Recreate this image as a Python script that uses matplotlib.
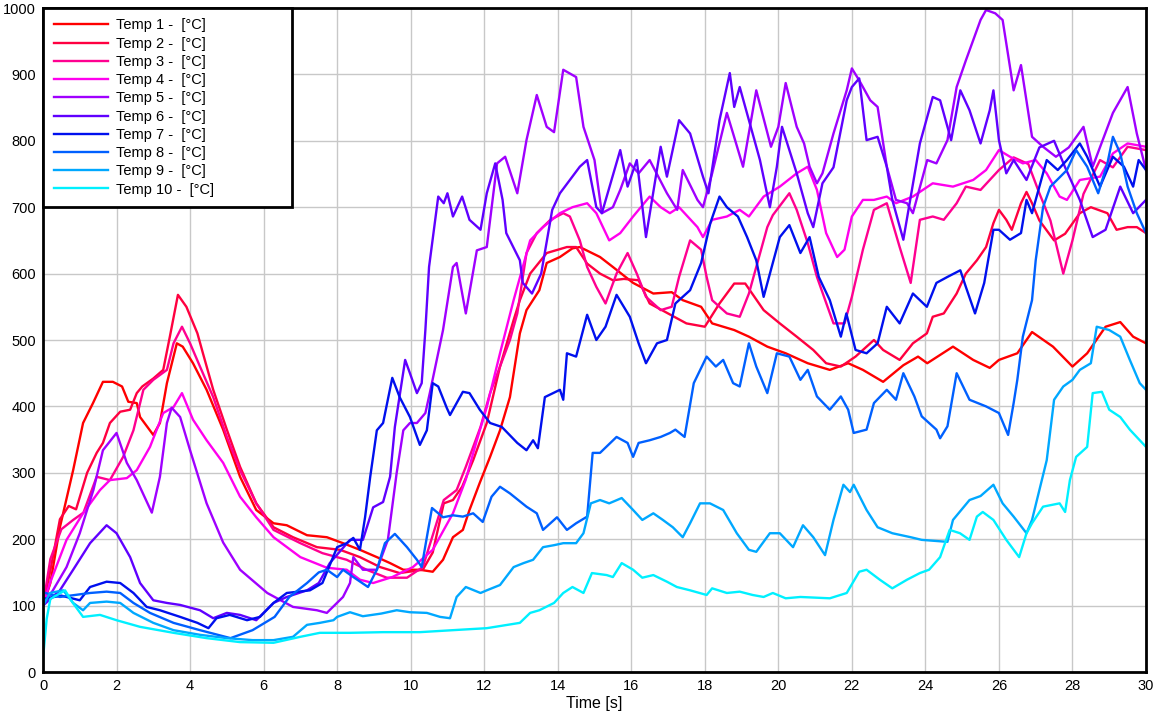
import matplotlib
matplotlib.use("Agg")
import matplotlib.pyplot as plt

# (time [s], temperature [°C])
temp1 = [(0, 100), (0.2, 134), (0.46, 218), (0.82, 304), (1.09, 375), (1.36, 405), (1.63, 437), (1.9, 437),
         (2.15, 430), (2.32, 407), (2.55, 405), (2.64, 384), (3.0, 357), (3.18, 375), (3.37, 435), (3.64, 495),
         (3.8, 490), (4.08, 465), (4.45, 425), (4.9, 365), (5.36, 294), (5.8, 244), (6.27, 224), (6.63, 221),
         (7.18, 206), (7.72, 203), (8.16, 194), (8.62, 184), (9.08, 173), (9.44, 164), (9.8, 154), (10.25, 154),
         (10.6, 151), (10.88, 169), (11.15, 203), (11.42, 214), (11.6, 244), (11.88, 285), (12.16, 324),
         (12.43, 364), (12.7, 414), (12.97, 510), (13.15, 545), (13.5, 575), (13.7, 616), (14.06, 625),
         (14.4, 638), (14.6, 640), (15.15, 625), (15.5, 610), (16.05, 586), (16.6, 570), (17.1, 572),
         (17.4, 560), (17.9, 550), (18.2, 525), (18.8, 515), (19.2, 505), (19.7, 490), (20.2, 480), (20.8, 465),
         (21.4, 455), (21.9, 465), (22.3, 455), (22.85, 437), (23.4, 462), (23.8, 475), (24.05, 465),
         (24.75, 490), (25.3, 470), (25.75, 458), (26.0, 470), (26.5, 480), (26.9, 512), (27.47, 490),
         (28.0, 460), (28.4, 480), (28.9, 520), (29.3, 527), (29.65, 505), (30, 495)]

temp2 = [(0, 100), (0.19, 150), (0.46, 230), (0.7, 250), (0.9, 245), (1.2, 300), (1.46, 330), (1.63, 345),
         (1.82, 375), (2.1, 392), (2.37, 395), (2.55, 420), (2.7, 430), (3.0, 442), (3.27, 455), (3.45, 505),
         (3.67, 568), (3.9, 550), (4.2, 510), (4.35, 480), (4.63, 425), (5.0, 365), (5.36, 309), (5.8, 254),
         (6.27, 218), (6.8, 203), (7.45, 188), (8.08, 184), (8.62, 173), (9.17, 158), (9.7, 149), (10.33, 154),
         (10.6, 180), (10.9, 254), (11.15, 259), (11.4, 279), (11.7, 319), (12.07, 375), (12.43, 460),
         (12.8, 530), (12.97, 560), (13.25, 600), (13.7, 631), (14.25, 640), (14.5, 640), (14.8, 615),
         (15.15, 600), (15.5, 590), (15.8, 592), (16.2, 590), (16.5, 555), (17.0, 540), (17.5, 525),
         (18.0, 520), (18.4, 555), (18.8, 585), (19.1, 585), (19.6, 545), (20.04, 525), (20.5, 505),
         (20.95, 485), (21.3, 465), (21.7, 460), (22.1, 475), (22.6, 500), (22.85, 485), (23.3, 470),
         (23.66, 495), (24.04, 510), (24.2, 535), (24.5, 540), (24.85, 570), (25.1, 600), (25.4, 620),
         (25.65, 640), (25.85, 676), (26.0, 696), (26.2, 681), (26.35, 666), (26.6, 706), (26.75, 723),
         (26.9, 706), (27.1, 680), (27.5, 650), (27.8, 660), (28.2, 691), (28.5, 700), (28.95, 691),
         (29.2, 666), (29.5, 670), (29.75, 670), (30, 661)]

temp3 = [(0, 100), (0.2, 170), (0.5, 215), (0.82, 229), (1.1, 240), (1.46, 294), (1.82, 289), (2.18, 324),
         (2.46, 364), (2.73, 425), (3.0, 440), (3.37, 455), (3.55, 495), (3.78, 520), (4.0, 495), (4.27, 460),
         (4.63, 414), (5.0, 354), (5.36, 304), (5.8, 254), (6.27, 214), (7.0, 194), (7.6, 179), (8.26, 169),
         (8.8, 154), (9.35, 142), (9.9, 142), (10.33, 158), (10.9, 259), (11.25, 274), (11.5, 309),
         (11.9, 369), (12.16, 420), (12.7, 500), (12.9, 540), (13.15, 631), (13.43, 661), (13.8, 681),
         (14.15, 691), (14.33, 686), (14.6, 650), (14.8, 610), (15.05, 580), (15.3, 555), (15.6, 600),
         (15.9, 631), (16.15, 600), (16.4, 565), (16.8, 545), (17.1, 550), (17.3, 595), (17.6, 650),
         (17.9, 636), (18.05, 595), (18.2, 560), (18.6, 540), (18.95, 535), (19.2, 570), (19.4, 610),
         (19.7, 670), (19.85, 688), (20.3, 721), (20.5, 696), (20.8, 646), (21.05, 595), (21.3, 556),
         (21.5, 525), (21.8, 525), (22.0, 565), (22.3, 636), (22.6, 696), (22.95, 706), (23.3, 640),
         (23.6, 586), (23.85, 681), (24.2, 686), (24.5, 681), (24.85, 706), (25.1, 731), (25.5, 726),
         (26.0, 756), (26.4, 775), (26.8, 765), (27.1, 721), (27.4, 680), (27.75, 600), (28.0, 650),
         (28.3, 720), (28.75, 771), (29.1, 760), (29.5, 791), (30, 786)]

temp4 = [(0, 100), (0.19, 134), (0.64, 199), (1.09, 239), (1.55, 274), (1.82, 289), (2.28, 292), (2.55, 304),
         (2.91, 339), (3.27, 390), (3.55, 399), (3.78, 420), (4.08, 380), (4.45, 349), (4.9, 315), (5.36, 264),
         (5.8, 233), (6.27, 203), (7.0, 173), (7.72, 157), (8.26, 154), (8.62, 139), (8.98, 134), (9.5, 143),
         (10.06, 158), (10.6, 184), (11.15, 239), (11.5, 290), (11.8, 349), (12.07, 399), (12.43, 480),
         (12.8, 560), (13.25, 650), (13.6, 670), (14.06, 691), (14.4, 700), (14.8, 706), (15.05, 691),
         (15.4, 650), (15.7, 661), (16.05, 686), (16.5, 716), (16.8, 700), (17.05, 691), (17.3, 700),
         (17.8, 670), (17.95, 655), (18.2, 681), (18.6, 686), (18.95, 696), (19.2, 686), (19.6, 716),
         (20.04, 731), (20.5, 751), (20.8, 761), (21.05, 726), (21.3, 661), (21.6, 625), (21.8, 636),
         (22.0, 686), (22.3, 711), (22.6, 711), (22.95, 716), (23.2, 706), (23.66, 716), (24.2, 736),
         (24.75, 731), (25.3, 741), (25.65, 756), (26.0, 786), (26.3, 776), (26.65, 766), (27.0, 771),
         (27.3, 751), (27.65, 716), (27.85, 711), (28.2, 741), (28.75, 746), (29.1, 781), (29.5, 796),
         (30, 791)]

temp5 = [(0, 100), (0.27, 123), (0.64, 158), (1.0, 209), (1.37, 274), (1.63, 334), (2.0, 360), (2.28, 315),
         (2.55, 289), (2.96, 240), (3.18, 294), (3.37, 375), (3.5, 398), (3.73, 384), (4.0, 334), (4.45, 254),
         (4.9, 195), (5.36, 154), (6.1, 119), (6.8, 98), (7.45, 93), (7.72, 89), (8.16, 113), (8.35, 134),
         (8.44, 173), (8.7, 154), (9.08, 154), (9.38, 199), (9.62, 300), (9.8, 364), (9.98, 375), (10.17, 375),
         (10.4, 390), (10.52, 420), (10.88, 515), (11.15, 610), (11.25, 616), (11.5, 540), (11.8, 635),
         (12.07, 640), (12.35, 766), (12.57, 776), (12.9, 721), (13.15, 801), (13.43, 869), (13.7, 821),
         (13.9, 813), (14.15, 907), (14.5, 896), (14.7, 821), (15.0, 771), (15.2, 691), (15.5, 700),
         (15.7, 726), (15.96, 766), (16.2, 751), (16.5, 771), (16.97, 721), (17.25, 696), (17.4, 756),
         (17.8, 711), (17.95, 700), (18.2, 751), (18.6, 842), (18.77, 811), (19.04, 761), (19.4, 876),
         (19.8, 791), (20.0, 821), (20.2, 887), (20.5, 821), (20.7, 796), (20.85, 761), (21.05, 736),
         (21.2, 751), (21.5, 811), (21.86, 876), (22.0, 909), (22.2, 891), (22.5, 861), (22.7, 851),
         (22.95, 761), (23.2, 711), (23.5, 706), (23.66, 691), (24.05, 771), (24.3, 766), (24.6, 801),
         (24.85, 881), (25.1, 921), (25.5, 982), (25.65, 997), (25.9, 992), (26.1, 982), (26.4, 876),
         (26.6, 914), (26.9, 806), (27.2, 791), (27.55, 776), (27.9, 790), (28.3, 821), (28.55, 761),
         (29.1, 842), (29.5, 881), (29.75, 811), (30, 756)]

temp6 = [(0, 100), (0.46, 123), (0.82, 154), (1.28, 194), (1.73, 221), (2.0, 209), (2.37, 173), (2.64, 134),
         (3.0, 108), (3.37, 104), (3.73, 101), (4.27, 93), (4.63, 81), (5.0, 89), (5.36, 86), (5.8, 78),
         (6.27, 104), (6.63, 113), (7.18, 123), (7.5, 134), (7.8, 164), (8.35, 199), (8.7, 199), (8.98, 248),
         (9.25, 256), (9.44, 294), (9.57, 369), (9.85, 470), (9.98, 450), (10.17, 420), (10.3, 435),
         (10.4, 515), (10.5, 610), (10.75, 716), (10.9, 706), (11.0, 721), (11.15, 686), (11.4, 716),
         (11.6, 681), (11.9, 666), (12.07, 721), (12.3, 766), (12.5, 711), (12.6, 661), (12.97, 620),
         (13.05, 586), (13.3, 570), (13.55, 600), (13.85, 696), (14.06, 721), (14.33, 741), (14.6, 761),
         (14.8, 771), (15.05, 700), (15.2, 691), (15.7, 786), (15.9, 731), (16.15, 771), (16.4, 655),
         (16.8, 791), (16.97, 746), (17.3, 831), (17.6, 811), (17.95, 746), (18.1, 721), (18.4, 831),
         (18.68, 902), (18.8, 851), (18.95, 881), (19.2, 831), (19.5, 771), (19.77, 700), (19.96, 761),
         (20.1, 821), (20.5, 751), (20.8, 691), (20.95, 670), (21.2, 736), (21.5, 760), (21.86, 861),
         (22.0, 881), (22.2, 894), (22.4, 801), (22.7, 806), (22.95, 761), (23.1, 711), (23.4, 651),
         (23.85, 796), (24.2, 866), (24.4, 861), (24.7, 801), (24.95, 876), (25.2, 846), (25.5, 796),
         (25.75, 846), (25.85, 876), (26.0, 801), (26.2, 751), (26.4, 771), (26.75, 741), (27.1, 790),
         (27.5, 800), (27.8, 760), (28.2, 711), (28.55, 655), (28.9, 666), (29.3, 731), (29.65, 691),
         (30, 711)]

temp7 = [(0, 110), (0.5, 115), (1.0, 108), (1.28, 128), (1.73, 136), (2.1, 134), (2.46, 119), (2.82, 98),
         (3.18, 93), (3.73, 83), (4.2, 74), (4.5, 66), (4.72, 81), (5.08, 86), (5.55, 78), (5.9, 83),
         (6.27, 104), (6.63, 119), (7.26, 123), (7.6, 134), (8.0, 188), (8.26, 194), (8.44, 202), (8.62, 184),
         (8.76, 233), (8.9, 294), (9.08, 364), (9.25, 375), (9.5, 443), (9.7, 414), (9.98, 384), (10.25, 342),
         (10.44, 364), (10.6, 435), (10.75, 430), (10.98, 398), (11.07, 387), (11.25, 405), (11.42, 422),
         (11.6, 420), (11.88, 395), (12.16, 375), (12.48, 369), (12.9, 345), (13.15, 334), (13.33, 349),
         (13.46, 337), (13.65, 414), (14.06, 425), (14.15, 410), (14.25, 480), (14.5, 475), (14.8, 538),
         (15.05, 500), (15.3, 520), (15.6, 568), (15.96, 535), (16.2, 495), (16.4, 465), (16.7, 495),
         (16.97, 500), (17.2, 555), (17.6, 575), (17.9, 616), (18.15, 676), (18.4, 716), (18.6, 700),
         (18.9, 686), (19.15, 655), (19.4, 620), (19.6, 565), (20.04, 655), (20.3, 673), (20.6, 631),
         (20.85, 655), (21.1, 595), (21.4, 560), (21.7, 505), (21.85, 540), (22.1, 485), (22.4, 480),
         (22.7, 495), (22.95, 550), (23.3, 525), (23.66, 570), (24.04, 550), (24.3, 586), (24.6, 595),
         (24.95, 605), (25.1, 580), (25.35, 540), (25.6, 586), (25.85, 666), (26.0, 666), (26.3, 651),
         (26.6, 661), (26.75, 711), (26.9, 691), (27.3, 771), (27.6, 756), (27.85, 771), (28.2, 796),
         (28.4, 776), (28.75, 731), (29.1, 776), (29.4, 761), (29.65, 731), (29.8, 771), (30, 756)]

temp8 = [(0, 120), (0.46, 113), (1.28, 119), (1.73, 121), (2.1, 119), (2.46, 104), (2.91, 89), (3.55, 74),
         (4.27, 63), (5.1, 51), (5.7, 63), (6.3, 83), (6.7, 113), (7.18, 134), (7.5, 150), (7.72, 154),
         (8.0, 143), (8.16, 154), (8.44, 143), (8.84, 128), (9.08, 154), (9.3, 194), (9.57, 208), (9.9, 188),
         (10.17, 169), (10.3, 158), (10.44, 203), (10.58, 247), (10.88, 233), (11.15, 236), (11.42, 234),
         (11.7, 239), (11.96, 226), (12.2, 264), (12.43, 279), (12.7, 269), (13.15, 249), (13.43, 239),
         (13.6, 214), (13.98, 233), (14.25, 214), (14.5, 224), (14.8, 234), (14.95, 330), (15.15, 330),
         (15.6, 354), (15.9, 345), (16.05, 324), (16.2, 345), (16.5, 349), (16.8, 354), (17.05, 360),
         (17.2, 365), (17.45, 354), (17.7, 435), (18.05, 475), (18.3, 460), (18.5, 470), (18.77, 435),
         (18.95, 430), (19.2, 495), (19.4, 460), (19.7, 420), (19.96, 480), (20.3, 475), (20.6, 440),
         (20.8, 455), (21.05, 415), (21.4, 395), (21.7, 415), (21.9, 395), (22.05, 360), (22.4, 365),
         (22.6, 405), (22.95, 425), (23.2, 410), (23.4, 450), (23.7, 415), (23.9, 385), (24.3, 365),
         (24.4, 352), (24.6, 370), (24.85, 450), (25.2, 410), (25.65, 400), (26.0, 390), (26.25, 357),
         (26.4, 405), (26.5, 440), (26.65, 505), (26.9, 560), (27.0, 620), (27.2, 700), (27.4, 731),
         (27.85, 756), (28.1, 786), (28.4, 761), (28.7, 721), (28.95, 766), (29.1, 806), (29.3, 781),
         (29.5, 731), (29.75, 691), (30, 661)]

temp9 = [(0, 100), (0.19, 119), (0.55, 123), (0.82, 104), (1.09, 93), (1.28, 104), (1.73, 106), (2.1, 104),
         (2.46, 89), (3.0, 74), (3.55, 63), (4.27, 56), (5.0, 51), (5.7, 48), (6.27, 48), (6.8, 53),
         (7.18, 71), (7.53, 74), (7.9, 78), (8.0, 83), (8.35, 90), (8.7, 84), (9.2, 88), (9.62, 93),
         (9.98, 90), (10.44, 89), (10.8, 83), (11.07, 81), (11.25, 113), (11.5, 128), (11.9, 119),
         (12.07, 123), (12.43, 131), (12.8, 158), (13.07, 164), (13.33, 169), (13.6, 188), (13.9, 191),
         (14.15, 194), (14.5, 194), (14.7, 209), (14.9, 254), (15.15, 259), (15.4, 254), (15.74, 262),
         (16.05, 244), (16.3, 229), (16.6, 239), (16.86, 229), (17.13, 218), (17.4, 203), (17.6, 224),
         (17.87, 254), (18.14, 254), (18.5, 244), (18.87, 209), (19.2, 184), (19.4, 181), (19.77, 209),
         (20.04, 209), (20.4, 188), (20.67, 221), (20.95, 203), (21.27, 176), (21.5, 229), (21.77, 282),
         (21.95, 271), (22.05, 282), (22.4, 244), (22.7, 218), (23.1, 209), (23.6, 203), (23.9, 199),
         (24.6, 196), (24.75, 229), (25.2, 259), (25.5, 265), (25.85, 282), (26.1, 254), (26.4, 234),
         (26.75, 209), (26.9, 229), (27.3, 319), (27.5, 410), (27.75, 430), (28.0, 440), (28.2, 455),
         (28.5, 465), (28.66, 520), (29.0, 515), (29.3, 505), (29.56, 470), (29.83, 435), (30, 425)]

temp10 = [(0, 20), (0.1, 80), (0.2, 110), (0.6, 123), (0.8, 105), (1.09, 83), (1.55, 86), (2.0, 78),
          (2.64, 68), (3.55, 59), (4.45, 51), (5.36, 45), (6.27, 44), (7.0, 53), (7.53, 59), (8.35, 59),
          (9.25, 60), (10.25, 60), (11.15, 63), (12.07, 66), (12.97, 74), (13.25, 89), (13.5, 93), (13.9, 104),
          (14.15, 119), (14.4, 128), (14.7, 119), (14.93, 149), (15.33, 146), (15.5, 143), (15.74, 164),
          (16.05, 154), (16.3, 142), (16.6, 146), (16.97, 136), (17.24, 128), (17.6, 123), (18.05, 116),
          (18.2, 126), (18.6, 119), (18.95, 121), (19.3, 116), (19.6, 113), (19.85, 119), (20.2, 111),
          (20.6, 113), (21.4, 111), (21.86, 119), (22.2, 151), (22.4, 154), (22.76, 139), (23.1, 126),
          (23.5, 139), (23.85, 149), (24.1, 154), (24.4, 173), (24.66, 214), (24.94, 209), (25.2, 199),
          (25.4, 234), (25.56, 241), (25.85, 229), (26.2, 199), (26.55, 173), (26.75, 209), (26.9, 224),
          (27.2, 249), (27.65, 254), (27.8, 241), (27.93, 289), (28.1, 324), (28.4, 339), (28.55, 420),
          (28.8, 422), (29.0, 395), (29.3, 384), (29.56, 365), (30, 339)]

series = [temp1, temp2, temp3, temp4, temp5, temp6, temp7, temp8, temp9, temp10]
labels = ["Temp %d -  [°C]" % (i + 1) for i in range(10)]
colors = ["#ff0000", "#ff0040", "#ff0090", "#ff00ee", "#a000ff",
          "#6000ff", "#0010ee", "#0060ff", "#00a8ff", "#00f0ff"]

FONT = "Liberation Sans"


def plot_temperatures():

    fig = plt.figure(figsize=(11.58, 7.23), dpi=100)
    ax = fig.add_axes([43 / 1158, 51 / 723, 1103 / 1158, 664 / 723])

    for data, label, color in zip(series, labels, colors):
        t = [p[0] for p in data]
        v = [p[1] for p in data]
        ax.plot(t, v, color=color, lw=1.7, label=label)

    ax.set_xlim(0, 30)
    ax.set_ylim(0, 1000)
    ax.set_xticks(range(0, 31, 2))
    ax.set_yticks(range(0, 1001, 100))
    ax.grid(True, color="#c8c8c8", lw=1)
    ax.set_axisbelow(True)
    ax.tick_params(length=0, labelsize=10.5, pad=5)
    for lab in ax.get_xticklabels() + ax.get_yticklabels():
        lab.set_fontfamily(FONT)
    for s in ax.spines.values():
        s.set_linewidth(2)
        s.set_color("black")

    ax.set_xlabel("Time [s]", fontsize=11.5, fontfamily=FONT, labelpad=2)

    leg = ax.legend(loc="upper left", bbox_to_anchor=(0, 1, 249 / 1103, 0), mode="expand",
                    borderaxespad=0, prop={"family": FONT, "size": 10.5},
                    handlelength=3.75, handletextpad=0.55, labelspacing=0.29,
                    borderpad=0.72, fancybox=False, framealpha=1)
    leg.get_frame().set_edgecolor("black")
    leg.get_frame().set_linewidth(2)

    fig.savefig("out.png", dpi=100)


def main():

    plot_temperatures()


if __name__ == "__main__":
    main()
